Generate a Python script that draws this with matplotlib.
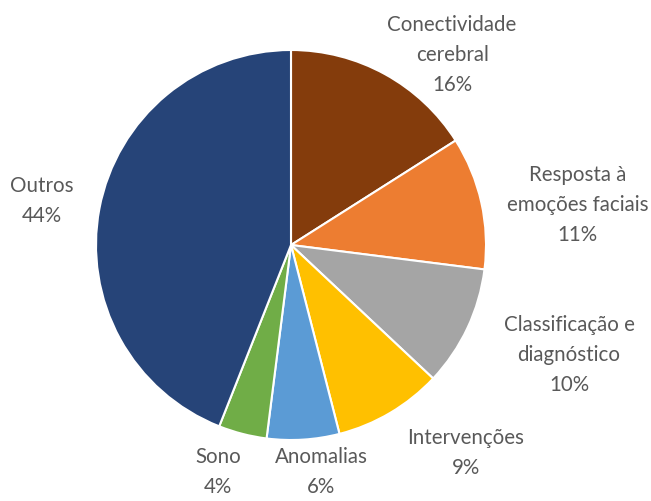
import matplotlib
matplotlib.use("Agg")
import matplotlib.pyplot as plt

# Share of studies per research topic
categories = ["Conectividade\ncerebral", "Resposta à\nemoções faciais",
              "Classificação e\ndiagnóstico", "Intervenções", "Anomalias",
              "Sono", "Outros"]
shares = [16, 11, 10, 9, 6, 4, 44]
colors = ["#843C0C", "#ED7D31", "#A5A5A5", "#FFC000", "#5B9BD5", "#70AD47", "#264478"]

# label anchor points (pie radius = 1)
label_pos = [(0.826, 0.974), (1.468, 0.205), (1.426, -0.564), (0.897, -1.067),
             (0.154, -1.165), (-0.374, -1.165), (-1.277, 0.226)]

W, H = 651, 501
cx, cy, r = 291, 245, 195

fig = plt.figure(figsize=(W / 100, H / 100), dpi=100)
ax = fig.add_axes([(cx - r) / W, (H - cy - r) / H, 2 * r / W, 2 * r / H])

ax.pie(shares, colors=colors, startangle=90, counterclock=False, radius=1,
       wedgeprops=dict(edgecolor="white", linewidth=1.5))
ax.set_xlim(-1, 1)
ax.set_ylim(-1, 1)
ax.set_aspect("equal")
ax.axis("off")

for name, val, (x, y) in zip(categories, shares, label_pos):
    ax.text(x, y, f"{name}\n{val}%", ha="center", va="center", fontsize=14.8,
            family="Lato", color="#595959", linespacing=1.65, clip_on=False)

fig.savefig("out.png", dpi=100)
